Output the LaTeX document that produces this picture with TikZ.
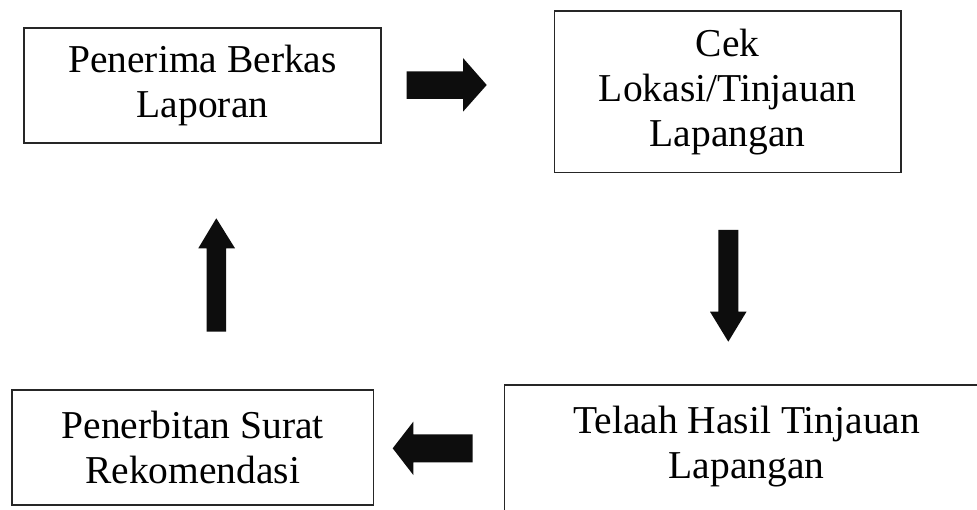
\documentclass[tikz,border=0pt]{standalone}
\usepackage{fontspec}
\setmainfont{Liberation Serif}
\begin{document}
\begin{tikzpicture}[x=1pt,y=-1pt,
  boxnode/.style={draw=black!85, line width=1.6pt, rectangle, inner sep=0pt, align=center,
    font=\fontsize{39.5}{45}\selectfont},
  txtnode/.style={inner sep=0pt, align=center, font=\fontsize{39.5}{45}\selectfont},
  blockarrow/.style={fill=black!95, draw=none}]
\clip (0,0) rectangle (977,510);
\fill[white] (0,0) rectangle (977,510);
% boxes
\node[boxnode, minimum width=357pt, minimum height=115pt] (b1) at (202.5,85.8) {Penerima Berkas\\Laporan};
\node[boxnode, minimum width=346.7pt, minimum height=161.7pt] (b2) at (727.7,91.8) {Cek\\Lokasi/Tinjauan\\Lapangan};
\node[boxnode, minimum width=361.3pt, minimum height=115pt] (b3) at (192.7,447.5) {Penerbitan Surat\\Rekomendasi};
\node[boxnode, minimum width=485.7pt, minimum height=145pt] (b4) at (747.2,457.5) {};
\node[txtnode] (t4) at (746.7,446.7) {Telaah Hasil Tinjauan\\Lapangan};
% right arrow (b1 -> b2)
\fill[blockarrow] (406.7,71.5) -- (463,71.5) -- (463,58) -- (486.7,85) -- (463,111.7) -- (463,98.8) -- (406.7,98.8) -- cycle;
% down arrow (b2 -> b4)
\fill[blockarrow] (718.3,230) -- (738.3,230) -- (738.3,311.7) -- (746.5,311.7) -- (728.3,341.7) -- (710,311.7) -- (718.3,311.7) -- cycle;
% left arrow (b4 -> b3)
\fill[blockarrow] (472.7,434.3) -- (472.7,462.3) -- (413.3,462.3) -- (413.3,475) -- (392.7,448.3) -- (413.3,421.7) -- (413.3,434.3) -- cycle;
% up arrow (b3 -> b1)
\fill[blockarrow] (206.7,331.7) -- (226,331.7) -- (226,248.3) -- (235,248.3) -- (216.3,218.3) -- (198.3,248.3) -- (206.7,248.3) -- cycle;
\end{tikzpicture}
\end{document}
